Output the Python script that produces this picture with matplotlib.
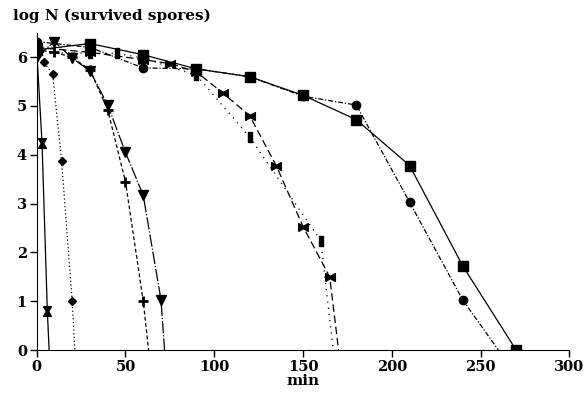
import numpy as np
from matplotlib import pyplot as plt

plt.rcParams["font.family"] = "DejaVu Serif"
plt.rcParams["font.weight"] = "bold"

# survival curves, time in min, log N of surviving spores
sq_t = [0, 30, 60, 90, 120, 150, 180, 210, 240, 270]
sq_y = [6.15, 6.28, 6.05, 5.76, 5.6, 5.22, 4.72, 3.78, 1.72, 0.0]

ci_t = [0, 30, 60, 90, 120, 150, 180, 210, 240, 260]
ci_y = [6.32, 6.2, 5.78, 5.76, 5.6, 5.2, 5.02, 3.03, 1.02, 0.0]

bw_t = [0, 30, 60, 75, 90, 105, 120, 135, 150, 165, 170]
bw_y = [6.2, 6.1, 5.95, 5.87, 5.7, 5.26, 4.8, 3.77, 2.53, 1.5, 0.0]

im_t = [0, 30, 45, 60, 90, 120, 160, 167]
im_y = [6.1, 6.08, 6.08, 5.98, 5.63, 4.36, 2.24, 0.0]

tr_t = [0, 10, 20, 30, 40, 50, 60, 70, 72]
tr_y = [6.0, 6.32, 5.98, 5.72, 5.02, 4.05, 3.17, 1.03, 0.0]

pl_t = [0, 10, 20, 30, 40, 50, 60, 63]
pl_y = [6.15, 6.1, 6.0, 5.74, 4.92, 3.45, 1.0, 0.0]

dm_t = [0, 4, 9, 14, 20, 21.5]
dm_y = [6.05, 5.9, 5.65, 3.88, 1.0, 0.0]

hg_t = [0, 3, 6, 7]
hg_y = [6.15, 4.25, 0.8, 0.0]

x_ticks = [0, 50, 100, 150, 200, 250, 300]
y_ticks = [0, 1, 2, 3, 4, 5, 6]

bowtie = [(-1, -0.8), (-1, 0.8), (0, 0.25), (1, 0.8), (1, -0.8), (0, -0.25), (-1, -0.8)]
hourglass = [(-0.8, 1), (0.8, 1), (0.25, 0), (0.8, -1), (-0.8, -1), (-0.25, 0), (-0.8, 1)]
bar = [(-0.35, -1), (0.35, -1), (0.35, 1), (-0.35, 1), (-0.35, -1)]

fig = plt.figure(figsize=(5.87, 3.99), dpi=100)
ax = fig.add_axes([0.0625, 0.1228, 0.9075, 0.795])

lw = 0.9
kw = dict(color="black", lw=lw, markeredgecolor="black", markerfacecolor="black")

ax.plot(sq_t, sq_y, "-", marker="s", ms=6.5, **kw)
ax.plot(ci_t, ci_y, linestyle=(0, (4, 1.5, 1, 1.5)), marker="o", ms=6, markevery=slice(0, -1), **kw)
ax.plot(bw_t, bw_y, linestyle=(0, (6, 3)), marker=bowtie, ms=7, markevery=slice(0, -1), **kw)
ax.plot(im_t, im_y, linestyle=(0, (1, 4)), marker=bar, ms=7, markevery=slice(0, -1), **kw)
ax.plot(tr_t, tr_y, linestyle=(0, (10, 1.5, 1, 1.5)), marker="v", ms=7, markevery=slice(0, -1), **kw)
ax.plot(pl_t, pl_y, linestyle=(0, (3, 2)), marker="+", ms=7, mew=2, markevery=slice(0, -1), **kw)
ax.plot(dm_t, dm_y, linestyle=(0, (1, 2)), marker="D", ms=4, markevery=slice(0, -1), **kw)
ax.plot(hg_t, hg_y, "-", marker=hourglass, ms=7, markevery=slice(0, -1), **kw)

ax.set_xlim(0, 300)
ax.set_ylim(0, 6.5)
ax.set_xticks(x_ticks)
ax.set_yticks(y_ticks)
ax.spines["top"].set_visible(False)
ax.spines["right"].set_visible(False)
ax.spines["left"].set_bounds(0, 6.5)
ax.tick_params(axis="both", direction="out", length=5, width=1, labelsize=10.5, pad=2)
ax.set_xlabel("min", fontsize=11, fontweight="bold", labelpad=0)
ax.text(-0.045, 1.03, "log N (survived spores)", transform=ax.transAxes,
        fontsize=11, fontweight="bold", ha="left", va="bottom")

for lab in ax.get_xticklabels() + ax.get_yticklabels():
    lab.set_fontweight("bold")

fig.savefig("out.png", dpi=100)
